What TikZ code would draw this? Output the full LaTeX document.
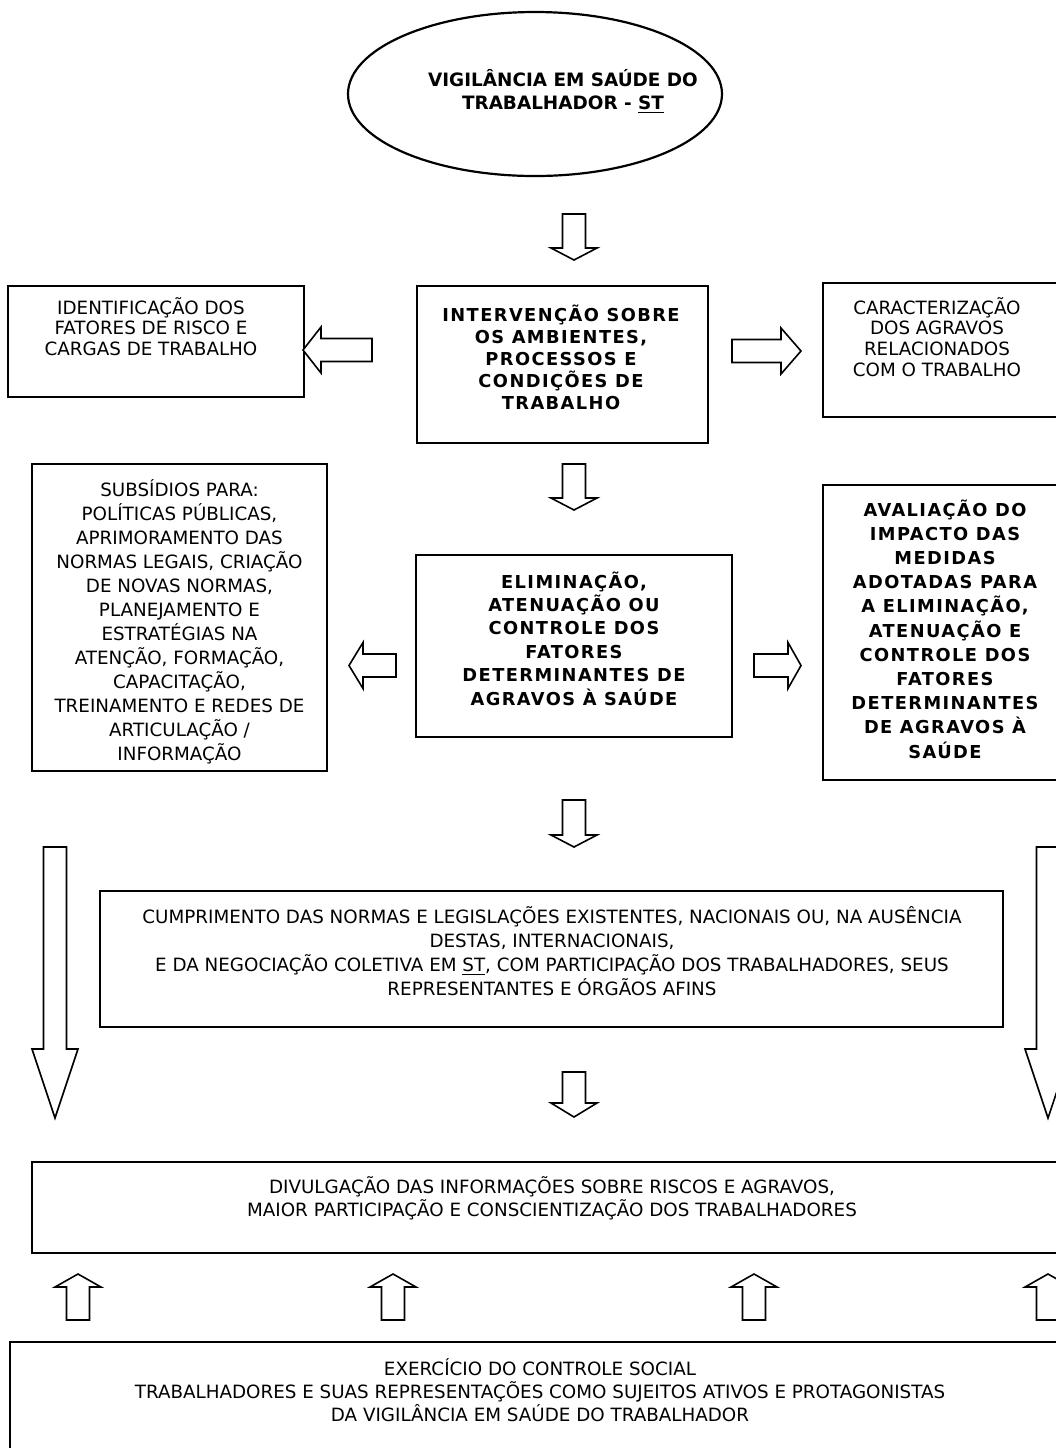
\documentclass[tikz,border=0pt]{standalone}
\usepackage{fontspec}
\setmainfont{DejaVu Sans}
\newfontfamily\widebold{DejaVu Sans}[LetterSpace=8]
\usepackage{tikz}
\usetikzlibrary{shapes.geometric, arrows.meta, positioning, calc}
\tikzstyle{frame} = [rectangle, draw=black, line width=1.2pt, inner sep=0pt]
\tikzstyle{hollow} = [draw=black, line width=0.8pt, fill=white, line join=miter]
\tikzset{
  txt/.style={align=center, inner sep=0pt, font=\fontsize{9.15}{#1}\selectfont},
  txt/.default=11.5,
  btxt/.style={align=center, inner sep=0pt, font=\widebold\bfseries\fontsize{8.9}{#1}\selectfont},
  btxt/.default=11.5
}
% hollow block arrow: start, tip, head length
\newcommand{\blockarrow}[3]{%
  \coordinate (hb) at ($(#2)!#3!(#1)$);
  \draw[hollow] ($(#1)!5.75pt!90:(#2)$) -- ($(hb)!5.75pt!90:(#2)$) -- ($(hb)!11.5pt!90:(#2)$)
    -- (#2) -- ($(hb)!11.5pt!-90:(#2)$) -- ($(hb)!5.75pt!-90:(#2)$) -- ($(#1)!5.75pt!-90:(#2)$) -- cycle;
}

\begin{document}
\begin{tikzpicture}[x=0.5pt, y=-0.5pt]
    \useasboundingbox (0,0) rectangle (1056,1448);
    \clip (0,0) rectangle (1056,1448);

    % Nodes
    \node (vigilancia) [ellipse, draw=black, line width=1.1pt, inner sep=0pt, minimum width=187pt, minimum height=82pt] at (535,94) {};
    \node (vigilanciatxt) [align=center, inner sep=0pt, font=\bfseries\fontsize{9.2}{11.5}\selectfont] at (563,91.5) {VIGILÂNCIA EM SAÚDE DO\\TRABALHADOR - \underline{ST}};

    \node (identificacao) [frame, minimum width=148pt, minimum height=55.5pt] at (156,341.5) {};
    \node (identificacaotxt) [txt=10.25] at (151,326.5) {IDENTIFICAÇÃO DOS\\FATORES DE RISCO E\\CARGAS DE TRABALHO};

    \node (intervencao) [frame, minimum width=145.5pt, minimum height=78.5pt] at (562.5,364.5) {};
    \node (intervencaotxt) [btxt=11] at (561,357.5) {INTERVENÇÃO SOBRE\\OS AMBIENTES,\\PROCESSOS E\\CONDIÇÕES DE\\TRABALHO};

    \node (caracterizacao) [frame, minimum width=123.5pt, minimum height=67pt] at (946.5,350) {};
    \node (caracterizacaotxt) [txt=10.35] at (937,337) {CARACTERIZAÇÃO\\DOS AGRAVOS\\RELACIONADOS\\COM O TRABALHO};

    \node (subsidios) [frame, minimum width=147.5pt, minimum height=153.5pt] at (179.5,617.5) {};
    \node (subsidiostxt) [txt=12] at (179.5,622) {SUBSÍDIOS PARA:\\POLÍTICAS PÚBLICAS,\\APRIMORAMENTO DAS\\NORMAS LEGAIS, CRIAÇÃO\\DE NOVAS NORMAS,\\PLANEJAMENTO E\\ESTRATÉGIAS NA\\ATENÇÃO, FORMAÇÃO,\\CAPACITAÇÃO,\\TREINAMENTO E REDES DE\\ARTICULAÇÃO /\\INFORMAÇÃO};

    \node (eliminacao) [frame, minimum width=158pt, minimum height=91pt] at (574,646) {};
    \node (eliminacaotxt) [btxt=11.7] at (574,638.5) {ELIMINAÇÃO,\\ATENUAÇÃO OU\\CONTROLE DOS\\FATORES\\DETERMINANTES DE\\AGRAVOS À SAÚDE};

    \node (avaliacao) [frame, minimum width=123.5pt, minimum height=147.5pt] at (946.5,632.5) {};
    \node (avaliacaotxt) [btxt=12.1] at (945,629) {AVALIAÇÃO DO\\IMPACTO DAS\\MEDIDAS\\ADOTADAS PARA\\A ELIMINAÇÃO,\\ATENUAÇÃO E\\CONTROLE DOS\\FATORES\\DETERMINANTES\\DE AGRAVOS À\\SAÚDE};

    \node (cumprimento) [frame, minimum width=451.5pt, minimum height=68pt] at (551.5,959) {};
    \node (cumprimentotxt) [txt=12] at (552,951) {CUMPRIMENTO DAS NORMAS E LEGISLAÇÕES EXISTENTES, NACIONAIS OU, NA AUSÊNCIA\\DESTAS, INTERNACIONAIS,\\E DA NEGOCIAÇÃO COLETIVA EM \underline{ST}, COM PARTICIPAÇÃO DOS TRABALHADORES, SEUS\\REPRESENTANTES E ÓRGÃOS AFINS};

    \node (divulgacao) [frame, minimum width=520pt, minimum height=45.5pt] at (552,1207.5) {};
    \node (divulgacaotxt) [txt=11.5] at (552,1198.5) {DIVULGAÇÃO DAS INFORMAÇÕES SOBRE RISCOS E AGRAVOS,\\MAIOR PARTICIPAÇÃO E CONSCIENTIZAÇÃO DOS TRABALHADORES};

    \node (controle) [frame, minimum width=530pt, minimum height=56.5pt] at (540,1398.5) {};
    \node (controletxt) [txt=11.5] at (540,1390) {EXERCÍCIO DO CONTROLE SOCIAL\\TRABALHADORES E SUAS REPRESENTAÇÕES COMO SUJEITOS ATIVOS E PROTAGONISTAS\\DA VIGILÂNCIA EM SAÚDE DO TRABALHADOR};

    % Arrows
    \coordinate (downa) at (574,214);   \coordinate (downatip) at (574,260);
    \coordinate (lefta) at (372,350);   \coordinate (leftatip) at (303,350);
    \coordinate (righta) at (732,351);  \coordinate (rightatip) at (801,351);
    \coordinate (downb) at (574,464);   \coordinate (downbtip) at (574,510);
    \coordinate (leftb) at (396,665.5); \coordinate (leftbtip) at (349,665.5);
    \coordinate (rightb) at (754,665.5);\coordinate (rightbtip) at (801,665.5);
    \coordinate (downc) at (574,800);   \coordinate (downctip) at (574,847);
    \coordinate (downd) at (574,1072);  \coordinate (downdtip) at (574,1117);
    \coordinate (longl) at (55,847);    \coordinate (longltip) at (55,1118);
    \coordinate (longr) at (1048,847);  \coordinate (longrtip) at (1048,1118);

    \blockarrow{downa}{downatip}{6pt}
    \blockarrow{lefta}{leftatip}{9pt}
    \blockarrow{righta}{rightatip}{10pt}
    \blockarrow{downb}{downbtip}{6pt}
    \blockarrow{leftb}{leftbtip}{7pt}
    \blockarrow{rightb}{rightbtip}{6.5pt}
    \blockarrow{downc}{downctip}{6pt}
    \blockarrow{downd}{downdtip}{7pt}
    \blockarrow{longl}{longltip}{34.5pt}
    \blockarrow{longr}{longrtip}{34.5pt}

    \foreach \x [count=\i] in {78,393,754,1048} {
      \coordinate (up\i) at (\x,1320);
      \coordinate (up\i tip) at (\x,1274);
      \blockarrow{up\i}{up\i tip}{6.5pt}
    }

\end{tikzpicture}
\end{document}
